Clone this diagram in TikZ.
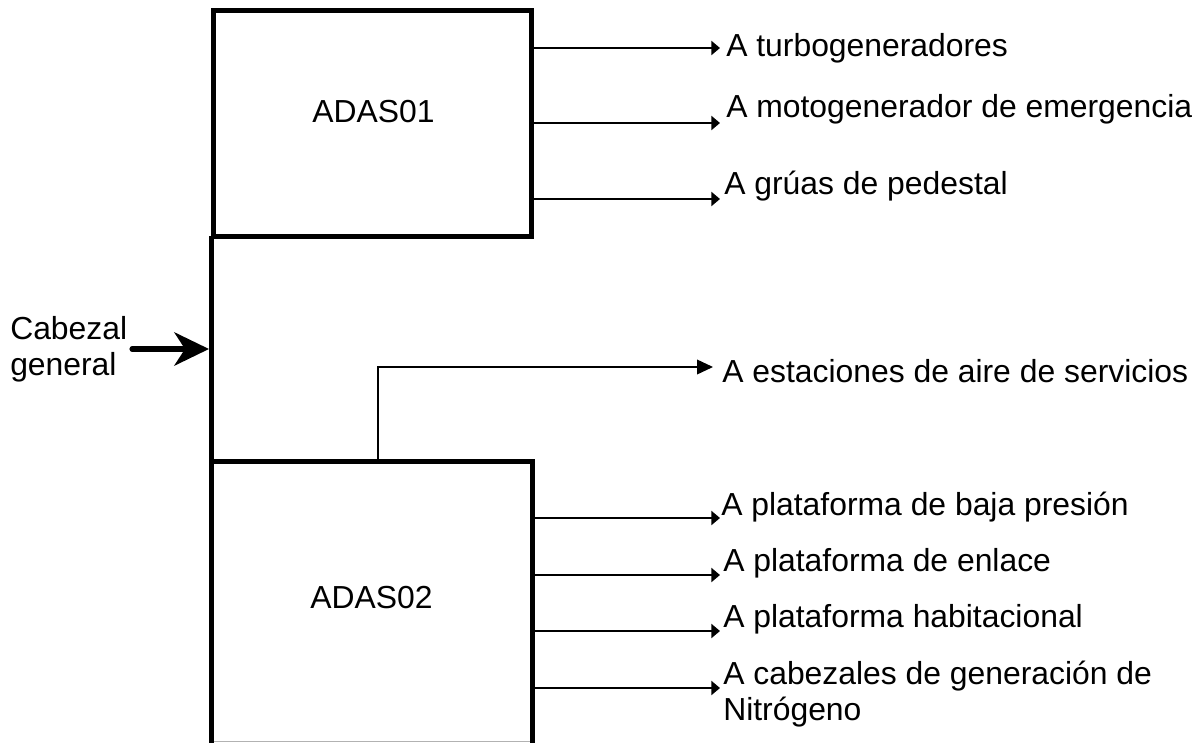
\documentclass[tikz,border=0pt]{standalone}
\usepackage{fontspec}
\setmainfont{Liberation Sans}
\usetikzlibrary{arrows.meta}
\tikzset{
  x=0.75pt,y=-0.75pt,
  boxn/.style={draw=black,line width=3.6pt,inner sep=0pt},
  openbox/.style={inner sep=0pt},
  lbl/.style={anchor=base west,inner sep=0pt,font=\fontsize{23.9pt}{27pt}\selectfont},
  flow/.style={draw=black,line width=2.1pt,-{Triangle[length=6.5pt,width=10.5pt]}},
  thinflow/.style={draw=black,line width=1.2pt,-{Triangle[length=12pt,width=11pt]}},
  feed/.style={draw=black,line width=3.8pt,line cap=round,-{Stealth[length=26pt,width=25pt,inset=8pt]}},
  riser/.style={draw=black,line width=3.5pt,line cap=rect},
  wall/.style={draw=black,line width=3.6pt,line cap=rect},
  floorline/.style={draw=black!30,line width=1.1pt}
}
\begin{document}
\begin{tikzpicture}
\useasboundingbox (0,0) rectangle (1201,742);
\node[boxn,minimum width=238.2pt,minimum height=168.9pt] (adas1) at (372.5,123.5) {};
\node[openbox,minimum width=240pt,minimum height=209.25pt] (adas2) at (372,601.5) {};
\draw[floorline] (adas2.south west) -- (adas2.south east);
\draw[wall] (adas2.south west) -- (adas2.north west) -- (adas2.north east) -- (adas2.south east);
\node[lbl] (t1) at (312,122) {ADAS01};
\node[lbl] (t2) at (310,608) {ADAS02};
% left header
\coordinate (j) at (209,349);
\draw[riser] (adas1.south west) -- (adas1.south west |- j);
\draw[riser] (adas2.north west) -- (adas2.north west |- j);
% inlet
\node[lbl] (c1) at (10,339) {Cabezal};
\node[lbl] (c2) at (10,375) {general};
\coordinate (in) at (132,349);
\draw[feed] (in) -- (j);
% ADAS01 outputs
\node[lbl] (a) at (726,57) {A turbogeneradores};
\node[lbl] (b) at (726,117) {A motogenerador de emergencia};
\node[lbl] (d) at (724,194) {A grúas de pedestal};
\coordinate (ta) at (720,48);
\coordinate (tb) at (720,123);
\coordinate (td) at (720,199);
\draw[flow] (adas1.east |- ta) -- (ta);
\draw[flow] (adas1.east |- tb) -- (tb);
\draw[flow] (adas1.east |- td) -- (td);
% service air
\node[lbl] (e) at (722,382) {A estaciones de aire de servicios};
\coordinate (te) at (713,367);
\coordinate (be) at (378,462);
\draw[thinflow] (be) |- (te);
% ADAS02 outputs
\node[lbl] (f) at (721,515) {A plataforma de baja presión};
\node[lbl] (g) at (723,571) {A plataforma de enlace};
\node[lbl] (h) at (723,627) {A plataforma habitacional};
\node[lbl] (k) at (723,684) {A cabezales de generación de};
\node[lbl] (k2) at (723,720) {Nitrógeno};
\coordinate (tf) at (720,518);
\coordinate (tg) at (720,575);
\coordinate (th) at (720,631);
\coordinate (tk) at (720,688);
\draw[flow] (adas2.east |- tf) -- (tf);
\draw[flow] (adas2.east |- tg) -- (tg);
\draw[flow] (adas2.east |- th) -- (th);
\draw[flow] (adas2.east |- tk) -- (tk);
\end{tikzpicture}
\end{document}
